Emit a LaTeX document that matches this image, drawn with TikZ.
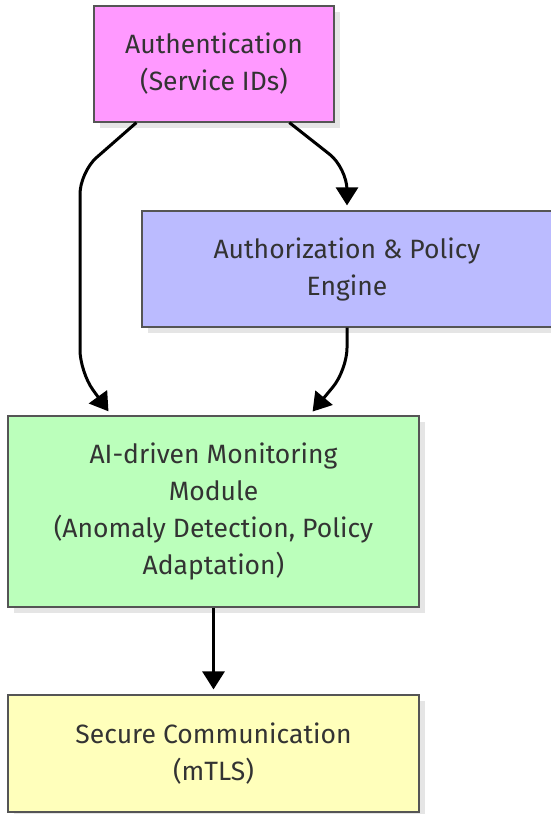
\documentclass[tikz,border=0pt]{standalone}
\usepackage{fontspec}
\setmainfont{Fira Sans}
\usetikzlibrary{arrows.meta,shadows}
\definecolor{authpink}{HTML}{FF99FF}
\definecolor{policyblue}{HTML}{BBBBFF}
\definecolor{aigreen}{HTML}{BBFFBB}
\definecolor{secyellow}{HTML}{FFFFBB}
\definecolor{inkgray}{HTML}{333333}
\definecolor{edgegray}{HTML}{555555}
\tikzset{
  box/.style={draw=edgegray, line width=1.2pt, rectangle, align=center,
    text=inkgray, font=\fontsize{26.5}{37}\selectfont,
    drop shadow={shadow xshift=6pt, shadow yshift=-6pt, fill=black!10, opacity=1}},
  flow/.style={draw=black, line width=3pt, rounded corners=22pt,
    -{Triangle[length=18pt,width=22pt]}, shorten >=5pt}
}
\begin{document}
\begin{tikzpicture}[x=1pt,y=1pt]
\useasboundingbox (0,0) rectangle (550,-814);

\node[box, fill=authpink, minimum width=240pt, minimum height=116pt]
  (auth) at (214,-64) {Authentication\\(Service IDs)};
\node[box, fill=policyblue, minimum width=410pt, minimum height=116pt]
  (authz) at (347,-269) {Authorization \& Policy\\Engine};
\node[box, fill=aigreen, minimum width=411pt, minimum height=191pt]
  (ai) at (213.5,-511.5) {AI-driven Monitoring\\Module\\(Anomaly Detection, Policy\\Adaptation)};
\node[box, fill=secyellow, minimum width=411pt, minimum height=117pt]
  (sec) at (213.5,-753.5) {Secure Communication\\(mTLS)};

% Authentication straight down to the monitoring module
\draw[flow] ([xshift=43pt]auth.south west) -- (80,-172) -- (80,-372)
  -- ([xshift=104pt]ai.north west);
% Authentication to the policy engine
\draw[flow] ([xshift=196pt]auth.south west) -- (347,-168) -- (authz.north);
% Policy engine to the monitoring module
\draw[flow] (authz.south) -- (347,-370) -- ([xshift=302pt]ai.north west);
% Monitoring module to secure communication
\draw[flow] (ai.south) -- (sec.north);
\end{tikzpicture}
\end{document}
